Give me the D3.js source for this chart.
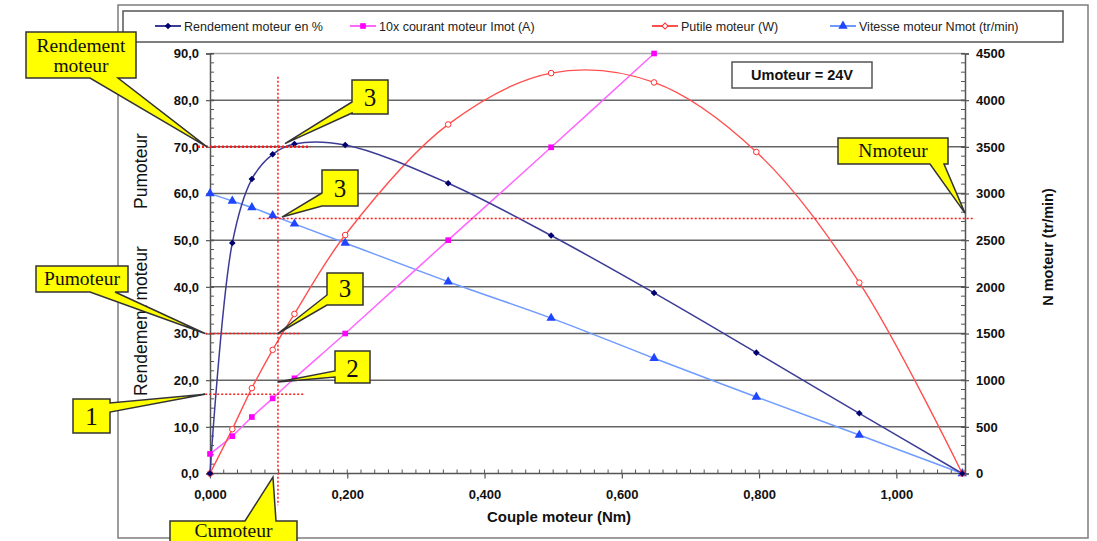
<!DOCTYPE html>
<html><head><meta charset="utf-8">
<script src="https://cdn.jsdelivr.net/npm/d3@7"></script>
<style>
body{margin:0;background:#fff}
svg text{font-family:"Liberation Sans",Arial,sans-serif}
svg text.serif{font-family:"Liberation Serif","Times New Roman",serif}
</style>
</head><body>
<svg id="chart" width="1097" height="541"></svg>
<script>
// Motor test bench measurements at Umoteur = 24 V
const couple    = [0, 0.0325, 0.061, 0.0913, 0.123, 0.197, 0.347, 0.497, 0.647, 0.796, 0.946, 1.096]; // Nm
const rendement = [0, 49.4, 63.1, 68.4, 70.6, 70.4, 62.2, 51.0, 38.7, 25.9, 12.9, 0];                 // %
const courant10 = [4.2, 8.0, 12.1, 16.1, 20.4, 30.0, 50.0, 69.9, 90.0];                               // 10 x A (first 9 torques)
const putile    = [0, 9.5, 18.3, 26.5, 34.2, 51.1, 74.8, 85.8, 83.8, 68.9, 40.9, 0];                  // W
const vitesse   = [3000, 2920, 2850, 2765, 2675, 2470, 2055, 1665, 1235, 820, 412, 0];               // tr/min

const leftTicks  = [0, 10, 20, 30, 40, 50, 60, 70, 80, 90];
const rightTicks = [0, 500, 1000, 1500, 2000, 2500, 3000, 3500, 4000, 4500];
const xTicks     = [0, 0.2, 0.4, 0.6, 0.8, 1.0];

const seriesNames = ["Rendement moteur en %", "10x courant moteur Imot (A)", "Putile moteur (W)", "Vitesse moteur Nmot (tr/min)"];

// Operating point read on the curves
const opCouple = 0.099, opRendement = 70, opPuissance = 30, opCourant10 = 17, opVitesse = 2732;

const svg = d3.select("#chart");
const fr = d3.formatLocale({decimal: ",", thousands: "", grouping: [3], currency: ["", ""]});
const f1 = fr.format(".1f"), f3 = fr.format(".3f");

const x  = d3.scaleLinear().domain([0, 1.1]).range([210, 965]);
const yL = d3.scaleLinear().domain([0, 90]).range([473.5, 53.5]);
const yR = d3.scaleLinear().domain([0, 4500]).range([473.5, 53.5]);

// outer chart frame
svg.append("rect").attr("x", 118).attr("y", 5).attr("width", 970).attr("height", 533)
  .attr("fill", "#fff").attr("stroke", "#7d7d7d").attr("stroke-width", 1.5);

// legend
const lg = svg.append("g");
lg.append("rect").attr("x", 123).attr("y", 11).attr("width", 940).attr("height", 31)
  .attr("fill", "#fff").attr("stroke", "#555").attr("stroke-width", 1.5);
const legendX = [168, 363, 665, 843];
const lineCol = ["#3c3c96", "#ff66ff", "#ff5050", "#6f9bff"];

// horizontal gridlines
svg.append("g").selectAll("line").data(leftTicks.filter(d => d > 0)).join("line")
  .attr("x1", x(0)).attr("x2", x(1.1)).attr("y1", d => yL(d)).attr("y2", d => yL(d))
  .attr("stroke", d => d === 90 ? "#a8a8a8" : "#666").attr("stroke-width", 1.5);

// minor ticks
const minorL = d3.range(0, 90.01, 2), minorR = d3.range(0, 4500.1, 100), minorX = d3.range(0, 1.1001, 0.02);
svg.append("g").selectAll("line").data(minorL).join("line")
  .attr("x1", x(0)).attr("x2", x(0) + 4).attr("y1", d => yL(d)).attr("y2", d => yL(d)).attr("stroke", "#555");
svg.append("g").selectAll("line").data(minorR).join("line")
  .attr("x1", x(1.1) - 4).attr("x2", x(1.1)).attr("y1", d => yR(d)).attr("y2", d => yR(d)).attr("stroke", "#555");
svg.append("g").selectAll("line").data(minorX).join("line")
  .attr("x1", d => x(d)).attr("x2", d => x(d)).attr("y1", yL(0) - 4).attr("y2", yL(0)).attr("stroke", "#555");

// axes
function styleAxis(g) {
  g.select(".domain").attr("stroke", "#555").attr("stroke-width", 1.5);
  g.selectAll(".tick line").attr("stroke", "#555").attr("stroke-width", 1.2);
  g.selectAll(".tick text").attr("fill", "#111").attr("font-size", 13).attr("font-weight", "bold");
}
const axL = svg.append("g").attr("transform", `translate(${x(0)},0)`)
  .call(d3.axisLeft(yL).tickValues(leftTicks).tickFormat(f1).tickSizeOuter(0).tickSize(4).tickPadding(7));
styleAxis(axL); axL.selectAll(".tick line").attr("x1", 4);
const axR = svg.append("g").attr("transform", `translate(${x(1.1)},0)`)
  .call(d3.axisRight(yR).tickValues(rightTicks).tickFormat(d3.format("d")).tickSizeOuter(0).tickSize(4).tickPadding(7));
styleAxis(axR); axR.selectAll(".tick line").attr("x1", -4);
const axB = svg.append("g").attr("transform", `translate(0,${yL(0)})`)
  .call(d3.axisBottom(x).tickValues(xTicks).tickFormat(f3).tickSizeOuter(0).tickSize(5).tickPadding(11));
styleAxis(axB); axB.select(".domain").attr("d", `M${x(0)},0H${x(1.1)}`);

// axis titles
svg.append("text").attr("x", 559).attr("y", 522).attr("text-anchor", "middle")
  .attr("font-size", 15).attr("font-weight", "bold").attr("fill", "#111").text("Couple moteur (Nm)");
svg.append("text").attr("transform", "translate(1053,247) rotate(-90)").attr("text-anchor", "middle")
  .attr("font-size", 14.5).attr("font-weight", "bold").attr("fill", "#111").text("N moteur (tr/min)");
svg.append("text").attr("transform", "translate(147,321) rotate(-90)").attr("text-anchor", "middle")
  .attr("font-size", 17.5).attr("fill", "#111").text("Rendement moteur");
svg.append("text").attr("transform", "translate(147,171) rotate(-90)").attr("text-anchor", "middle")
  .attr("font-size", 17.5).attr("fill", "#111").text("Pumoteur");

// series
const curve = d3.curveCatmullRom.alpha(0.5);
const lineL = d3.line().x(d => x(d[0])).y(d => yL(d[1])).curve(curve);
const lineR = d3.line().x(d => x(d[0])).y(d => yR(d[1])).curve(curve);
const dRend = couple.map((c, i) => [c, rendement[i]]);
const dCour = courant10.map((v, i) => [couple[i], v]);
const dPut  = couple.map((c, i) => [c, putile[i]]);
const dVit  = couple.map((c, i) => [c, vitesse[i]]);

const diamond = d3.symbol().type(d3.symbolSquare).size(22);
const square  = d3.symbol().type(d3.symbolSquare).size(32);
const tri     = d3.symbol().type(d3.symbolTriangle).size(38);

svg.append("path").attr("d", lineR(dVit)).attr("fill", "none").attr("stroke", lineCol[3]).attr("stroke-width", 1.5);
svg.append("path").attr("d", lineL(dCour)).attr("fill", "none").attr("stroke", lineCol[1]).attr("stroke-width", 1.5);
svg.append("path").attr("d", lineL(dPut)).attr("fill", "none").attr("stroke", lineCol[2]).attr("stroke-width", 1.4);
svg.append("path").attr("d", lineL(dRend)).attr("fill", "none").attr("stroke", lineCol[0]).attr("stroke-width", 1.5);

svg.append("g").selectAll("path").data(dVit).join("path").attr("d", tri)
  .attr("transform", d => `translate(${x(d[0])},${yR(d[1])})`).attr("fill", "#1f45ff");
svg.append("g").selectAll("path").data(dCour).join("path").attr("d", square)
  .attr("transform", d => `translate(${x(d[0])},${yL(d[1])})`).attr("fill", "#ff00ff");
svg.append("g").selectAll("circle").data(dPut).join("circle")
  .attr("cx", d => x(d[0])).attr("cy", d => yL(d[1])).attr("r", 2.8)
  .attr("fill", "#fff").attr("stroke", "#ff3030").attr("stroke-width", 1);
svg.append("g").selectAll("path").data(dRend).join("path").attr("d", diamond)
  .attr("transform", d => `translate(${x(d[0])},${yL(d[1])}) rotate(45)`).attr("fill", "#000070");

// legend entries
const markers = [
  g => g.append("path").attr("d", diamond).attr("transform", "rotate(45)").attr("fill", "#000070"),
  g => g.append("path").attr("d", square).attr("fill", "#ff00ff"),
  g => g.append("path").attr("d", d3.symbol().type(d3.symbolSquare).size(18)).attr("transform", "rotate(45)")
        .attr("fill", "#fff").attr("stroke", "#ff3030"),
  g => g.append("path").attr("d", tri).attr("fill", "#1f45ff")
];
seriesNames.forEach((name, i) => {
  const g = lg.append("g").attr("transform", `translate(${legendX[i]},26)`);
  g.append("line").attr("x1", -13).attr("x2", 13).attr("stroke", lineCol[i]).attr("stroke-width", 2);
  markers[i](g);
  g.append("text").attr("x", 16).attr("y", 4.5).attr("font-size", 12.5).attr("fill", "#222").text(name);
});

// Umoteur label
svg.append("rect").attr("x", 732).attr("y", 62).attr("width", 140).attr("height", 26)
  .attr("fill", "#fff").attr("stroke", "#555").attr("stroke-width", 1.5);
svg.append("text").attr("x", 802).attr("y", 80).attr("text-anchor", "middle")
  .attr("font-size", 14.5).attr("font-weight", "bold").attr("fill", "#111").text("Umoteur = 24V");

// red dotted construction lines through the operating point
const dots = svg.append("g").attr("stroke", "#ff1a1a").attr("fill", "none");
dots.append("line").attr("x1", x(opCouple)).attr("x2", x(opCouple)).attr("y1", yL(85)).attr("y2", yL(-6.8))
  .attr("stroke-width", 1.5).attr("stroke-dasharray", "2,2");
dots.append("line").attr("x1", x(-0.0175)).attr("x2", x(0.146)).attr("y1", yL(opRendement)).attr("y2", yL(opRendement))
  .attr("stroke-width", 2.5).attr("stroke-dasharray", "2,2");
dots.append("line").attr("x1", x(-0.007)).attr("x2", x(0.131)).attr("y1", yL(opPuissance)).attr("y2", yL(opPuissance))
  .attr("stroke-width", 1.5).attr("stroke-dasharray", "2,2");
dots.append("line").attr("x1", x(-0.007)).attr("x2", x(0.136)).attr("y1", yL(opCourant10)).attr("y2", yL(opCourant10))
  .attr("stroke-width", 1.5).attr("stroke-dasharray", "2,2");
dots.append("line").attr("x1", x(0.071)).attr("x2", x(1.114)).attr("y1", yR(opVitesse)).attr("y2", yR(opVitesse))
  .attr("stroke-width", 1.5).attr("stroke-dasharray", "2,2");

// yellow callouts: box + wedge pointing to an anchor
function callout(b, edge, a, c, tip, lines, size, baseY) {
  const X0 = b.x, Y0 = b.y, X1 = b.x + b.w, Y1 = b.y + b.h;
  let p = `M${X0},${Y0}`;
  if (edge === "top") p += `L${a},${Y0}L${tip[0]},${tip[1]}L${c},${Y0}`;
  p += `L${X1},${Y0}`;
  if (edge === "right") p += `L${X1},${a}L${tip[0]},${tip[1]}L${X1},${c}`;
  p += `L${X1},${Y1}`;
  if (edge === "bottom") p += `L${c},${Y1}L${tip[0]},${tip[1]}L${a},${Y1}`;
  p += `L${X0},${Y1}`;
  if (edge === "left") p += `L${X0},${c}L${tip[0]},${tip[1]}L${X0},${a}`;
  p += "Z";
  const g = svg.append("g");
  g.append("path").attr("d", p).attr("fill", "#ffff00").attr("stroke", "#333").attr("stroke-width", 1.5)
    .attr("stroke-linejoin", "miter");
  lines.forEach((t, i) => g.append("text").attr("class", "serif")
    .attr("x", b.x + b.w / 2).attr("y", baseY + i * 20)
    .attr("text-anchor", "middle").attr("font-size", size).attr("fill", "#111").text(t));
}
callout({x: 26, y: 32, w: 110, h: 46}, "bottom", 90, 118, [x(0) - 3, yL(opRendement)], ["Rendement", "moteur"], 19.5, 52);
callout({x: 36, y: 266, w: 92, h: 26}, "bottom", 90, 115, [x(0) - 5, yL(opPuissance)], ["Pumoteur"], 19.5, 285);
callout({x: 73, y: 399, w: 37, h: 34}, "right", 403, 412, [x(0) - 5, yL(opCourant10)], ["1"], 25, 425);
callout({x: 170, y: 521, w: 127, h: 40}, "top", 245, 276, [x(opCouple) - 5, yL(0) + 3.5], ["Cumoteur"], 19.5, 537);
callout({x: 352, y: 80, w: 36, h: 34}, "left", 102, 113, [x(opCouple) + 7, yL(70.7)], ["3"], 25, 106);
callout({x: 322, y: 170, w: 36, h: 36}, "left", 193, 206, [x(opCouple) + 4, yR(2748)], ["3"], 25, 197);
callout({x: 327, y: 273, w: 36, h: 32}, "left", 295, 305, [x(opCouple), yL(opPuissance)], ["3"], 25, 297);
callout({x: 335, y: 351, w: 35, h: 32}, "left", 371, 377, [x(opCouple), yL(19.6)], ["2"], 25, 377);
callout({x: 838, y: 138, w: 110, h: 26}, "bottom", 930, 944, [x(1.1), yR(2790)], ["Nmoteur"], 19.5, 157);
</script>
</body></html>
